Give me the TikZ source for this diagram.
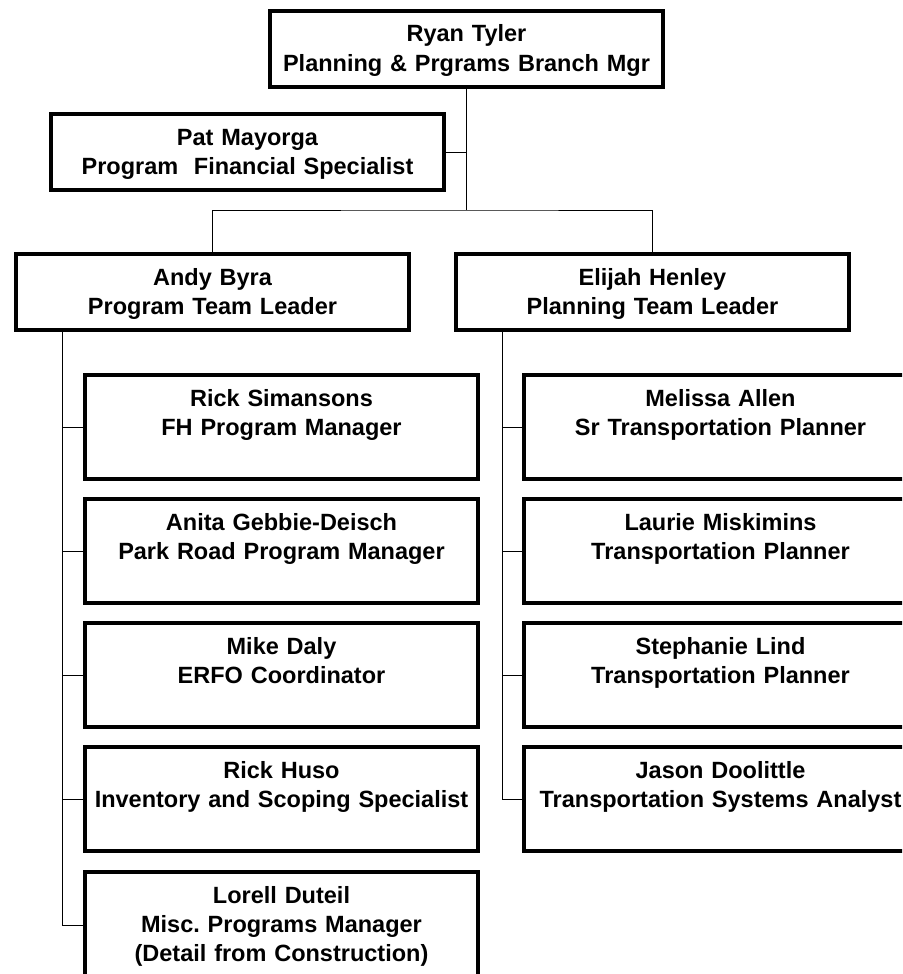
\documentclass[tikz,border=0pt]{standalone}
\usepackage{fontspec}
\setmainfont{Liberation Sans}

\tikzset{
	box/.style={draw, line width=4pt, inner sep=0pt, text width=393pt, align=center, anchor=north,
		font=\fontsize{23.5}{29}\selectfont\bfseries, text height=31pt},
	lead/.style={box, text depth=45pt},
	staff/.style={box, text depth=73pt},
	link/.style={line width=1pt}
}

\begin{document}
\begin{tikzpicture}[x=1pt,y=-1pt]
		\clip (0,0) rectangle (902,974);
		% Direction
		\node[lead] (ryan) at (466.5,9) {Ryan Tyler\\Planning \& Prgrams Branch Mgr};
		\node[lead] (pat) at (247.5,112) {Pat Mayorga\\Program~ Financial Specialist};
		\node[lead] (andy) at (212.5,252) {Andy Byra\\Program Team Leader};
		\node[lead] (elijah) at (652.5,252) {Elijah Henley\\Planning Team Leader};
		% Equipe programmes
		\node[staff] (rick) at (281.5,373) {Rick Simansons\\FH Program Manager};
		\node[staff] (anita) at (281.5,497) {Anita Gebbie-Deisch\\Park Road Program Manager};
		\node[staff] (mike) at (281.5,621) {Mike Daly\\ERFO Coordinator};
		\node[staff] (huso) at (281.5,745) {Rick Huso\\Inventory and Scoping Specialist};
		\node[staff, text depth=75pt] (lorell) at (281.5,870) {Lorell Duteil\\Misc.\ Programs Manager\\(Detail from Construction)};
		% Equipe planification
		\node[staff] (melissa) at (720.5,373) {Melissa Allen\\Sr Transportation Planner};
		\node[staff] (laurie) at (720.5,497) {Laurie Miskimins\\Transportation Planner};
		\node[staff] (stephanie) at (720.5,621) {Stephanie Lind\\Transportation Planner};
		\node[staff] (jason) at (720.5,745) {Jason Doolittle\\Transportation Systems Analyst};
		% Liens
		\coordinate (split) at (466.5,210);
		\coordinate (atrunk) at (62,328);
		\coordinate (etrunk) at (502,328);
		\draw[link] (ryan.south) -- (ryan.south |- pat.east) -- (pat.east);
		\draw[link] (ryan.south) -- (split);
		\draw[link] (andy.north) |- (split) -| (elijah.north);
		\foreach \n in {rick,anita,mike,huso}
			\draw[link] (atrunk |- \n.west) -- (\n.west);
		\draw[link] (atrunk) |- (lorell.west);
		\foreach \n in {melissa,laurie,stephanie}
			\draw[link] (etrunk |- \n.west) -- (\n.west);
		\draw[link] (etrunk) |- (jason.west);
\end{tikzpicture}
\end{document}
